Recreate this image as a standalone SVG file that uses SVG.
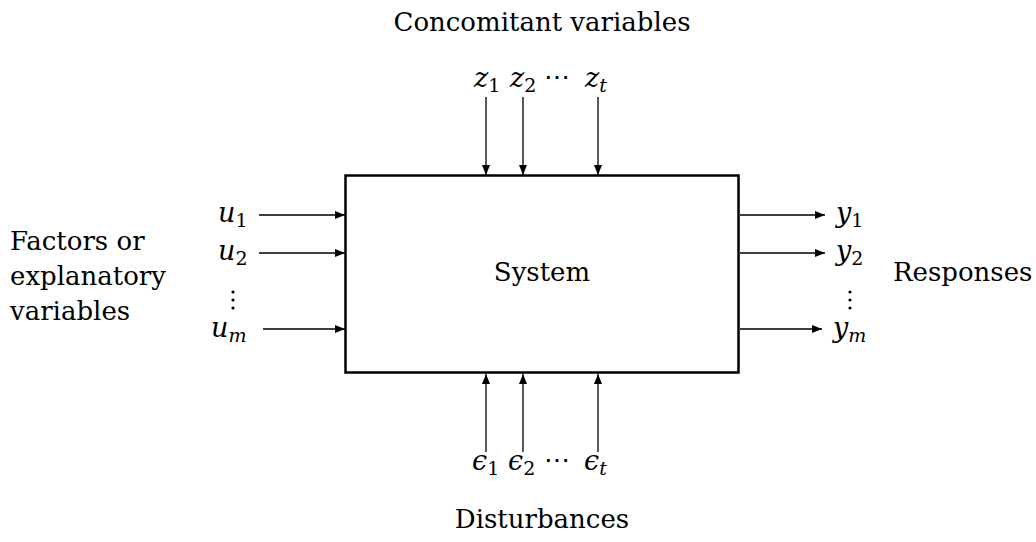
<svg xmlns="http://www.w3.org/2000/svg" width="1036" height="542" viewBox="0 0 1036 542">
<style>
.t{font-family:"DejaVu Serif","Liberation Serif",serif;font-size:26px;fill:#000}
.m{font-family:"DejaVu Serif","Liberation Serif",serif;font-style:italic;font-size:27px;fill:#000}
.s{font-family:"DejaVu Serif","Liberation Serif",serif;font-style:normal;font-size:19px;fill:#000}
.st{font-family:"DejaVu Serif","Liberation Serif",serif;font-style:italic;font-size:19px;fill:#000}
.c{stroke:#000;stroke-width:1.3;fill:none;marker-end:url(#a)}
</style>
<defs>
<marker id="a" viewBox="0 0 10 10" refX="10" refY="5" markerWidth="10" markerHeight="10" markerUnits="userSpaceOnUse" orient="auto">
<path d="M0,1 L10,5 L0,9 Z" fill="#000"/>
</marker>
</defs>
<rect width="1036" height="542" fill="#fff"/>
<g id="system">
<rect x="345.5" y="175.5" width="393" height="197" fill="#fff" stroke="#000" stroke-width="2.5"/>
<text class="t" x="542" y="281" text-anchor="middle">System</text>
</g>
<g id="concomitant">
<text class="t" x="542" y="31" text-anchor="middle">Concomitant variables</text>
<text class="m" x="474" y="87">z<tspan class="s" dy="5">1</tspan></text>
<text class="m" x="510" y="87">z<tspan class="s" dy="5">2</tspan></text>
<text class="t" x="544" y="86">⋯</text>
<text class="m" x="585" y="87">z<tspan class="st" dy="5">t</tspan></text>
</g>
<g id="disturbances">
<text class="t" x="542" y="528" text-anchor="middle">Disturbances</text>
<text class="m" x="472" y="470">ϵ<tspan class="s" dy="5">1</tspan></text>
<text class="m" x="508" y="470">ϵ<tspan class="s" dy="5">2</tspan></text>
<text class="t" x="544" y="469">⋯</text>
<text class="m" x="584" y="470">ϵ<tspan class="st" dy="5">t</tspan></text>
</g>
<g id="factors">
<text class="t" x="10" y="250">Factors or</text>
<text class="t" x="10" y="285">explanatory</text>
<text class="t" x="10" y="320">variables</text>
<text class="m" x="218" y="222">u<tspan class="s" dy="5">1</tspan></text>
<text class="m" x="218" y="260">u<tspan class="s" dy="5">2</tspan></text>
<g fill="#000"><circle cx="233" cy="292" r="1.6"/><circle cx="233" cy="300" r="1.6"/><circle cx="233" cy="308" r="1.6"/></g>
<text class="m" x="211" y="337">u<tspan class="st" dy="5">m</tspan></text>
</g>
<g id="responses">
<text class="t" x="893" y="281">Responses</text>
<text class="m" x="836" y="222">y<tspan class="s" dy="5">1</tspan></text>
<text class="m" x="836" y="260">y<tspan class="s" dy="5">2</tspan></text>
<g fill="#000"><circle cx="850" cy="292" r="1.6"/><circle cx="850" cy="300" r="1.6"/><circle cx="850" cy="308" r="1.6"/></g>
<text class="m" x="833" y="337">y<tspan class="st" dy="5">m</tspan></text>
</g>
<g id="connectors">
<line class="c" x1="486" y1="97" x2="486" y2="175"/>
<line class="c" x1="523" y1="97" x2="523" y2="175"/>
<line class="c" x1="598" y1="97" x2="598" y2="175"/>
<line class="c" x1="486" y1="452" x2="486" y2="374"/>
<line class="c" x1="523" y1="452" x2="523" y2="374"/>
<line class="c" x1="598" y1="452" x2="598" y2="374"/>
<line class="c" x1="259" y1="215" x2="345" y2="215"/>
<line class="c" x1="259" y1="253" x2="345" y2="253"/>
<line class="c" x1="263" y1="329" x2="345" y2="329"/>
<line class="c" x1="740" y1="215" x2="825" y2="215"/>
<line class="c" x1="740" y1="253" x2="825" y2="253"/>
<line class="c" x1="740" y1="329" x2="822" y2="329"/>
</g>
</svg>
